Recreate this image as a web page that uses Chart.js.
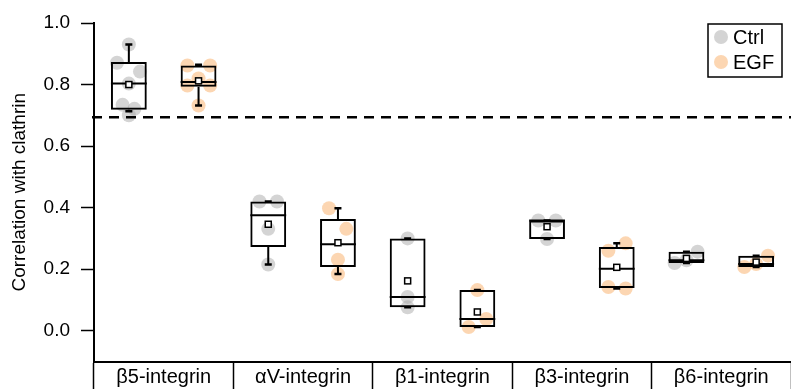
<!DOCTYPE html>
<html>
<head>
<meta charset="utf-8">
<script src="https://cdn.jsdelivr.net/npm/chart.js@4/dist/chart.umd.min.js"></script>
<style>
  html, body { margin: 0; padding: 0; overflow: hidden; background: #fff; }
  canvas { display: block; }
</style>
</head>
<body>
<canvas id="chart" width="798" height="389"></canvas>
<script>
// ---- data ----
const categories = ['β5-integrin', 'αV-integrin', 'β1-integrin', 'β3-integrin', 'β6-integrin'];
const yTicks = [0.0, 0.2, 0.4, 0.6, 0.8, 1.0];
const threshold = 0.694;

// individual measurements per integrin
const ctrlValues = [
  [0.930, 0.871, 0.842, 0.803, 0.734, 0.721, 0.700],
  [0.420, 0.420, 0.331, 0.215],
  [0.300, 0.110, 0.076],
  [0.358, 0.358, 0.298],
  [0.257, 0.229, 0.220]
];
const egfValues = [
  [0.862, 0.862, 0.820, 0.797, 0.797, 0.732],
  [0.398, 0.331, 0.231, 0.184],
  [0.132, 0.038, 0.012],
  [0.284, 0.260, 0.142, 0.137],
  [0.244, 0.217, 0.207]
];

// box statistics
const ctrlLow    = [0.713, 0.215, 0.076, 0.298, 0.220];
const ctrlQ1     = [0.718, 0.272, 0.076, 0.298, 0.220];
const ctrlMedian = [0.803, 0.375, 0.110, 0.358, 0.229];
const ctrlQ3     = [0.873, 0.420, 0.300, 0.358, 0.257];
const ctrlHigh   = [0.930, 0.420, 0.300, 0.358, 0.257];
const ctrlMean   = [0.800, 0.346, 0.162, 0.338, 0.235];

const egfLow     = [0.732, 0.184, 0.012, 0.137, 0.207];
const egfQ1      = [0.793, 0.207, 0.012, 0.139, 0.207];
const egfMedian  = [0.808, 0.281, 0.038, 0.201, 0.217];
const egfQ3      = [0.862, 0.363, 0.132, 0.272, 0.244];
const egfHigh    = [0.864, 0.398, 0.132, 0.284, 0.244];
const egfMean    = [0.812, 0.286, 0.061, 0.206, 0.223];

// ---- layout of boxes and points (in category widths) ----
const groupOffset = 0.25;
const ctrlJitter = [
  [0, -0.085, 0.08, 0, -0.045, 0.04, 0],
  [-0.063, 0.063, 0, 0],
  [0, 0, 0],
  [-0.063, 0.063, 0],
  [0.08, 0, -0.085]
];
const egfJitter = [
  [-0.08, 0.083, 0, -0.08, 0.083, 0],
  [-0.064, 0.06, 0, 0],
  [0, 0.064, -0.062],
  [0.064, -0.06, -0.06, 0.064],
  [0.085, 0, -0.085]
];

const ctrlColor = 'rgba(170,170,170,0.5)';
const egfColor = 'rgba(248,165,85,0.45)';
const FONT = "'Liberation Sans', Arial, sans-serif";

function scatterPoints(values, jitter, offset) {
  const pts = [];
  values.forEach((arr, i) => arr.forEach((v, k) => pts.push({ x: i + offset + jitter[i][k], y: v })));
  return pts;
}
function boxBars(q1, q3, offset) {
  return q1.map((q, i) => ({ x: i + offset, y: [q, q3[i]] }));
}

const groups = [
  { name: 'Ctrl', color: ctrlColor, barIndex: 0, low: ctrlLow, median: ctrlMedian, high: ctrlHigh, mean: ctrlMean, q1: ctrlQ1, q3: ctrlQ3 },
  { name: 'EGF', color: egfColor, barIndex: 1, low: egfLow, median: egfMedian, high: egfHigh, mean: egfMean, q1: egfQ1, q3: egfQ3 }
];

const integerTicks = scale => { scale.ticks = categories.map((_, i) => ({ value: i })); };

// whiskers, medians, means, threshold line and legend
const boxDetails = {
  id: 'boxDetails',
  afterDatasetsDraw(chart) {
    const { ctx, chartArea, scales } = chart;
    const y = scales.y;
    ctx.save();
    ctx.strokeStyle = '#000';
    groups.forEach(g => {
      const meta = chart.getDatasetMeta(g.barIndex);
      meta.data.forEach((bar, i) => {
        const cx = bar.x;
        const hw = bar.width / 2;
        const yLow = y.getPixelForValue(g.low[i]);
        const yHigh = y.getPixelForValue(g.high[i]);
        const yQ1 = y.getPixelForValue(g.q1[i]);
        const yQ3 = y.getPixelForValue(g.q3[i]);
        // whiskers
        ctx.lineWidth = 2;
        ctx.beginPath();
        ctx.moveTo(cx, yQ3); ctx.lineTo(cx, yHigh);
        ctx.moveTo(cx, yQ1); ctx.lineTo(cx, yLow);
        ctx.stroke();
        // caps
        ctx.lineWidth = 2.5;
        ctx.beginPath();
        ctx.moveTo(cx - 3.5, yHigh); ctx.lineTo(cx + 3.5, yHigh);
        ctx.moveTo(cx - 3.5, yLow); ctx.lineTo(cx + 3.5, yLow);
        ctx.stroke();
        // median
        ctx.lineWidth = 2;
        const yMed = y.getPixelForValue(g.median[i]);
        ctx.beginPath();
        ctx.moveTo(cx - hw, yMed); ctx.lineTo(cx + hw, yMed);
        ctx.stroke();
        // mean marker
        const yMean = y.getPixelForValue(g.mean[i]);
        ctx.lineWidth = 1.5;
        ctx.fillStyle = '#fff';
        ctx.fillRect(cx - 3, yMean - 3, 6, 6);
        ctx.strokeRect(cx - 3, yMean - 3, 6, 6);
      });
    });
    // threshold
    const yt = y.getPixelForValue(threshold);
    ctx.lineWidth = 2.5;
    ctx.setLineDash([10, 7]);
    ctx.beginPath();
    ctx.moveTo(chartArea.left - 2, yt);
    ctx.lineTo(chartArea.right, yt);
    ctx.stroke();
    ctx.setLineDash([]);
    ctx.restore();
  },
  afterDraw(chart) {
    const { ctx, chartArea } = chart;
    const bx = chartArea.right - 83, by = chartArea.top + 1, bw = 74, bh = 53;
    ctx.save();
    ctx.fillStyle = '#fff';
    ctx.fillRect(bx, by, bw, bh);
    ctx.strokeStyle = '#000';
    ctx.lineWidth = 1.5;
    ctx.strokeRect(bx, by, bw, bh);
    ctx.font = '20px ' + FONT;
    ctx.textBaseline = 'middle';
    ctx.textAlign = 'left';
    groups.forEach((g, k) => {
      const cy = by + 13 + k * 25;
      ctx.beginPath();
      ctx.arc(bx + 13, cy, 7, 0, Math.PI * 2);
      ctx.fillStyle = g.color;
      ctx.fill();
      ctx.fillStyle = '#000';
      ctx.fillText(g.name, bx + 25, cy + 1);
    });
    ctx.restore();
  }
};

const boxStyle = {
  type: 'bar',
  xAxisID: 'xb',
  grouped: false,
  backgroundColor: 'rgba(0,0,0,0)',
  borderColor: '#000',
  borderWidth: 2,
  borderSkipped: false,
  categoryPercentage: 1.0,
  barPercentage: 0.514,
  order: 1
};
const pointStyle = {
  type: 'scatter',
  xAxisID: 'xp',
  borderWidth: 0,
  pointRadius: 7,
  order: 2
};

// hidden linear axes that share the category band geometry
const hiddenLinear = {
  type: 'linear',
  display: false,
  offset: false,
  min: -0.5,
  max: categories.length - 0.5,
  afterBuildTicks: integerTicks
};

new Chart(document.getElementById('chart'), {
  type: 'bar',
  data: {
    labels: categories,
    datasets: [
      Object.assign({ label: 'Ctrl box', data: boxBars(ctrlQ1, ctrlQ3, -groupOffset) }, boxStyle),
      Object.assign({ label: 'EGF box', data: boxBars(egfQ1, egfQ3, groupOffset) }, boxStyle),
      Object.assign({ label: 'Ctrl', data: scatterPoints(ctrlValues, ctrlJitter, -groupOffset), backgroundColor: ctrlColor }, pointStyle),
      Object.assign({ label: 'EGF', data: scatterPoints(egfValues, egfJitter, groupOffset), backgroundColor: egfColor }, pointStyle)
    ]
  },
  options: {
    responsive: false,
    animation: false,
    layout: { padding: { top: 23, right: 3, bottom: 0, left: 0 } },
    plugins: { legend: { display: false }, tooltip: { enabled: false } },
    scales: {
      x: {
        type: 'category',
        offset: true,
        grid: { offset: true, drawOnChartArea: false, drawTicks: true, tickLength: 28, tickColor: '#000', tickWidth: 1.5, color: '#000' },
        border: { display: true, color: '#000', width: 2 },
        ticks: { color: '#000', font: { family: FONT, size: 20 }, padding: -24, maxRotation: 0, autoSkip: false },
        afterFit(scale) { scale.height = 27.5; }
      },
      xb: Object.assign({}, hiddenLinear),
      xp: Object.assign({}, hiddenLinear),
      y: {
        min: -0.1,
        max: 1.0,
        afterBuildTicks(scale) { scale.ticks = yTicks.map(v => ({ value: v })); },
        grid: { drawOnChartArea: false, tickLength: 13, tickColor: '#000', tickWidth: 1.5, color: '#000' },
        border: { display: true, color: '#000', width: 2 },
        ticks: { color: '#000', font: { family: FONT, size: 19 }, padding: 11, callback: v => Number(v).toFixed(1) },
        title: { display: true, text: 'Correlation with clathrin', color: '#000', font: { family: FONT, size: 19 }, padding: { top: 8, bottom: 0 } },
        afterFit(scale) { scale.width = 94; }
      }
    }
  },
  plugins: [boxDetails]
});
</script>
</body>
</html>
